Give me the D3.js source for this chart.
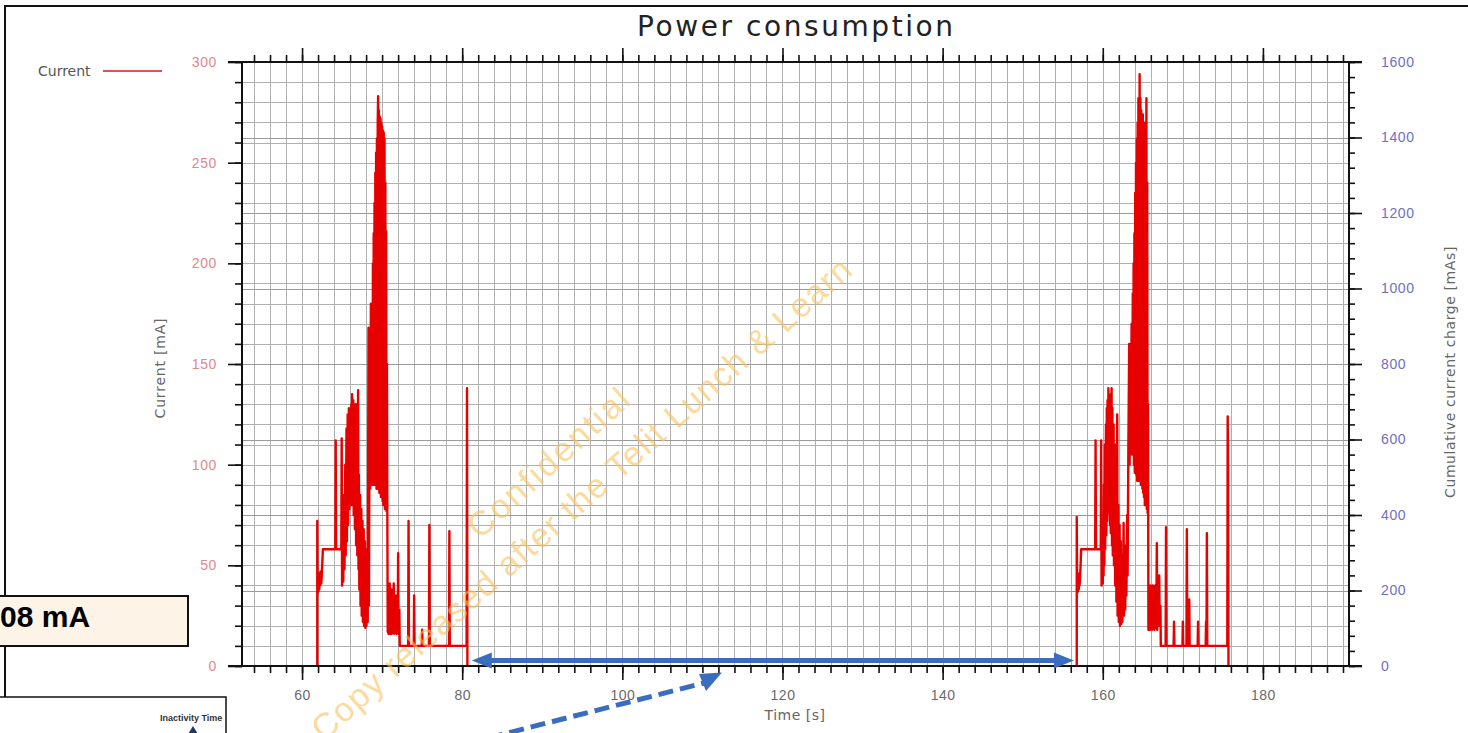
<!DOCTYPE html>
<html>
<head>
<meta charset="utf-8">
<script src="https://cdn.jsdelivr.net/npm/d3@7"></script>
<style>
  body { margin: 0; background: #fff; }
  svg { display: block; font-family: "DejaVu Sans", sans-serif; }
</style>
</head>
<body>
<div id="chart"></div>
<script>
// ---- data ----
// time [s], current [mA]
var burst1 = [[61.9,0],[61.9,72],[61.95,36],[62.0,44],[62.05,37],[62.1,45],[62.15,38],[62.2,46],[62.25,40],[62.3,47],[62.4,41],[62.5,48],[62.6,58],[64.15,58],[64.2,112],[64.25,58],[64.9,58],[64.95,113],[65.0,40],[65.1,60],[65.15,42],[65.25,85],[65.3,48],[65.4,100],[65.45,55],[65.55,118],[65.6,62],[65.7,125],[65.75,70],[65.85,128],[65.9,78],[66.0,126],[66.05,85],[66.15,130],[66.2,80],[66.25,135],[66.3,88],[66.4,132],[66.45,75],[66.55,128],[66.6,68],[66.7,130],[66.75,60],[66.85,126],[66.9,55],[67.0,137],[67.05,48],[67.1,95],[67.15,38],[67.25,85],[67.3,30],[67.4,78],[67.45,25],[67.55,72],[67.6,22],[67.7,68],[67.75,20],[67.85,62],[67.9,19],[68.0,58],[68.05,20],[68.15,55],[68.2,22],[68.3,168],[68.35,30],[68.45,150],[68.5,88],[68.6,180],[68.65,90],[68.75,178],[68.8,92],[68.85,200],[68.9,90],[68.95,215],[69.0,93],[69.05,230],[69.1,90],[69.15,245],[69.2,92],[69.25,255],[69.3,88],[69.35,262],[69.4,90],[69.45,270],[69.5,283],[69.55,88],[69.6,276],[69.65,86],[69.7,273],[69.75,88],[69.8,272],[69.85,84],[69.9,270],[69.95,86],[70.0,268],[70.05,82],[70.1,266],[70.15,80],[70.2,265],[70.25,80],[70.3,262],[70.35,78],[70.4,240],[70.45,78],[70.5,216],[70.55,77],[70.6,150],[70.65,76],[70.7,17],[70.75,40],[70.8,16],[70.85,32],[70.9,17],[70.95,41],[71.0,16],[71.05,30],[71.1,17],[71.15,38],[71.2,16],[71.3,30],[71.35,17],[71.45,41],[71.5,16],[71.6,30],[71.65,17],[71.75,35],[71.8,16],[71.9,30],[71.95,17],[72.0,56],[72.05,16],[72.15,28],[72.2,10],[73.25,10],[73.3,72],[73.35,10],[73.95,10],[74.0,35],[74.05,10],[74.95,10],[75.0,18],[75.05,10],[75.85,10],[75.9,70],[75.95,10],[78.35,10],[78.4,67],[78.45,10],[80.55,10],[80.6,138],[80.65,0]];

var burst2 = [[156.75,0],[156.75,74],[156.8,36],[156.85,44],[156.9,37],[156.95,45],[157.0,38],[157.05,46],[157.1,40],[157.2,47],[157.3,58],[159.05,58],[159.1,112],[159.15,58],[159.75,58],[159.8,112],[159.85,40],[159.95,58],[160.0,41],[160.05,70],[160.1,45],[160.15,90],[160.2,50],[160.25,110],[160.3,58],[160.4,120],[160.45,65],[160.5,128],[160.55,72],[160.6,132],[160.65,80],[160.7,138],[160.75,76],[160.85,135],[160.9,70],[160.95,130],[161.0,66],[161.1,138],[161.15,60],[161.2,128],[161.25,55],[161.35,120],[161.4,50],[161.5,110],[161.55,40],[161.65,100],[161.7,32],[161.8,125],[161.85,25],[161.95,80],[162.0,22],[162.1,70],[162.15,20],[162.25,62],[162.3,21],[162.4,55],[162.45,22],[162.55,48],[162.6,71],[162.65,25],[162.75,50],[162.8,28],[162.9,60],[162.95,35],[163.05,75],[163.1,45],[163.2,110],[163.3,160],[163.35,100],[163.45,150],[163.5,108],[163.6,170],[163.65,105],[163.75,185],[163.8,110],[163.85,200],[163.9,100],[163.95,215],[164.0,96],[164.05,235],[164.1,100],[164.15,250],[164.2,95],[164.25,262],[164.3,92],[164.35,270],[164.4,95],[164.45,282],[164.5,92],[164.6,294],[164.65,94],[164.7,282],[164.75,90],[164.8,276],[164.85,92],[164.9,272],[164.95,88],[165.0,274],[165.05,86],[165.1,268],[165.15,84],[165.2,264],[165.25,80],[165.3,270],[165.35,80],[165.45,282],[165.5,78],[165.55,240],[165.6,76],[165.65,130],[165.7,18],[165.75,40],[165.8,19],[165.85,32],[165.9,18],[165.95,40],[166.0,19],[166.1,30],[166.15,18],[166.25,40],[166.3,19],[166.4,32],[166.45,18],[166.55,40],[166.6,19],[166.7,32],[166.75,61],[166.8,18],[166.9,38],[166.95,20],[167.05,45],[167.1,20],[167.2,30],[167.25,10],[167.85,10],[167.9,69],[167.95,10],[168.85,10],[168.9,22],[168.95,10],[169.95,10],[170.0,22],[170.05,10],[170.45,10],[170.5,68],[170.55,10],[170.75,10],[170.8,33],[170.85,10],[171.85,10],[171.9,22],[171.95,10],[172.85,10],[172.9,22],[172.95,10],[173.0,66],[173.05,10],[175.55,10],[175.6,124],[175.65,98],[175.7,0]];

var timeTicks = [60, 80, 100, 120, 140, 160, 180];
var currentTicks = [0, 50, 100, 150, 200, 250, 300];
var chargeTicks = [0, 200, 400, 600, 800, 1000, 1200, 1400, 1600];

var W = 1468, H = 733;

var svg = d3.select("#chart").append("svg")
    .attr("width", W)
    .attr("height", H);

// outer frame of the pasted chart
svg.append("rect")
    .attr("x", 5).attr("y", 6)
    .attr("width", 1500).attr("height", 800)
    .attr("fill", "none")
    .attr("stroke", "#111")
    .attr("stroke-width", 2);

// scales
var x = d3.scaleLinear().domain([52.5, 190.75]).range([242, 1349]);
var y = d3.scaleLinear().domain([0, 300]).range([666, 62]);
var y2 = d3.scaleLinear().domain([0, 1600]).range([666, 62]);

// grid
var grid = svg.append("g").attr("class", "grid")
    .attr("stroke", "#b0b0b0").attr("stroke-width", 1);

grid.selectAll("line.v")
    .data(d3.range(54, 191, 2))
    .enter().append("line")
    .attr("class", "v")
    .attr("x1", function(d) { return Math.round(x(d)) + 0.5; })
    .attr("x2", function(d) { return Math.round(x(d)) + 0.5; })
    .attr("y1", y(300)).attr("y2", y(0));

grid.selectAll("line.h")
    .data(d3.range(10, 300, 10))
    .enter().append("line")
    .attr("class", "h")
    .attr("x1", x(52.5)).attr("x2", x(190.75))
    .attr("y1", function(d) { return Math.round(y(d)) + 0.5; })
    .attr("y2", function(d) { return Math.round(y(d)) + 0.5; });

grid.selectAll("line.h2")
    .data(chargeTicks.slice(1, -1))
    .enter().append("line")
    .attr("class", "h2")
    .attr("stroke", "#9a9a9a")
    .attr("x1", x(52.5)).attr("x2", x(190.75))
    .attr("y1", function(d) { return Math.round(y2(d)) + 0.5; })
    .attr("y2", function(d) { return Math.round(y2(d)) + 0.5; });

// current trace
var line = d3.line()
    .x(function(d) { return x(d[0]); })
    .y(function(d) { return y(d[1]); });

svg.selectAll("path.current")
    .data([burst1, burst2])
    .enter().append("path")
    .attr("class", "current")
    .attr("d", line)
    .attr("fill", "none")
    .attr("stroke", "#e60000")
    .attr("stroke-width", 2.4)
    .attr("stroke-linejoin", "round");

// axes
function styleAxis(g) {
    g.select(".domain").remove();
    g.selectAll(".tick line").attr("stroke", "#111").attr("stroke-width", 1.6);
}

// bottom
svg.append("g")
    .attr("transform", "translate(0," + y(0) + ")")
    .call(d3.axisBottom(x).tickValues(d3.range(54, 191, 2)).tickSize(7).tickFormat(""))
    .call(styleAxis);
svg.append("g")
    .attr("transform", "translate(0," + y(0) + ")")
    .call(d3.axisBottom(x).tickValues(timeTicks).tickSize(14).tickPadding(10).tickFormat(d3.format("d")))
    .call(styleAxis)
    .call(function(g) {
        g.selectAll("text")
            .attr("fill", "#6a6a6a")
            .style("font-size", "14px")
            .style("letter-spacing", "0.5px");
    });

// top
svg.append("g")
    .attr("transform", "translate(0," + y(300) + ")")
    .call(d3.axisTop(x).tickValues(d3.range(54, 191, 2)).tickSize(7).tickFormat(""))
    .call(styleAxis);
svg.append("g")
    .attr("transform", "translate(0," + y(300) + ")")
    .call(d3.axisTop(x).tickValues(timeTicks).tickSize(14).tickFormat(""))
    .call(styleAxis);

// left
svg.append("g")
    .attr("transform", "translate(" + x(52.5) + ",0)")
    .call(d3.axisLeft(y).tickValues(d3.range(0, 301, 10)).tickSize(7).tickFormat(""))
    .call(styleAxis);
svg.append("g")
    .attr("transform", "translate(" + x(52.5) + ",0)")
    .call(d3.axisLeft(y).tickValues(currentTicks).tickSize(14).tickPadding(11).tickFormat(d3.format("d")))
    .call(styleAxis)
    .call(function(g) {
        g.selectAll("text")
            .attr("fill", "#e0888e")
            .style("font-size", "14px")
            .style("letter-spacing", "0.6px");
    });

// right
svg.append("g")
    .attr("transform", "translate(" + x(190.75) + ",0)")
    .call(d3.axisRight(y2).tickValues(d3.range(0, 1601, 40)).tickSize(6).tickFormat(""))
    .call(styleAxis);
svg.append("g")
    .attr("transform", "translate(" + x(190.75) + ",0)")
    .call(d3.axisRight(y2).tickValues(chargeTicks).tickSize(13).tickPadding(19).tickFormat(d3.format("d")))
    .call(styleAxis)
    .call(function(g) {
        g.selectAll("text")
            .attr("fill", "#6f6fbf")
            .style("font-size", "14px")
            .style("letter-spacing", "0.6px");
    });

// frame lines of the plot box
var box = svg.append("g").attr("stroke", "#111").attr("stroke-width", 2);
box.append("line").attr("x1", x(52.5) - 14).attr("x2", x(190.75) + 13).attr("y1", y(0)).attr("y2", y(0));
box.append("line").attr("x1", x(52.5) - 14).attr("x2", x(190.75) + 13).attr("y1", y(300)).attr("y2", y(300));
box.append("line").attr("x1", x(52.5)).attr("x2", x(52.5)).attr("y1", y(300)).attr("y2", y(0));
box.append("line").attr("x1", x(190.75)).attr("x2", x(190.75)).attr("y1", y(300)).attr("y2", y(0));

// titles
svg.append("text")
    .attr("x", 795).attr("y", 36)
    .attr("text-anchor", "middle")
    .attr("fill", "#222")
    .attr("textLength", 316)
    .style("font-size", "28px")
    .text("Power consumption");

svg.append("text")
    .attr("x", 795).attr("y", 720)
    .attr("text-anchor", "middle")
    .attr("fill", "#666")
    .style("font-size", "14px")
    .style("letter-spacing", "0.5px")
    .text("Time [s]");

svg.append("text")
    .attr("transform", "translate(165,368) rotate(-90)")
    .attr("text-anchor", "middle")
    .attr("fill", "#666")
    .style("font-size", "14px")
    .style("letter-spacing", "0.8px")
    .text("Current [mA]");

svg.append("text")
    .attr("transform", "translate(1455,372) rotate(-90)")
    .attr("text-anchor", "middle")
    .attr("fill", "#666")
    .style("font-size", "14px")
    .style("letter-spacing", "0.6px")
    .text("Cumulative current charge [mAs]");

// legend
svg.append("text")
    .attr("x", 38).attr("y", 76)
    .attr("fill", "#555")
    .style("font-size", "14px")
    .text("Current");
svg.append("line")
    .attr("x1", 103).attr("x2", 162)
    .attr("y1", 71).attr("y2", 71)
    .attr("stroke", "#d9535a")
    .attr("stroke-width", 2);

// watermark
var wm = svg.append("g")
    .attr("fill", "#f8c25a")
    .attr("fill-opacity", 0.6)
    .style("font-family", "'Liberation Sans', Arial, sans-serif");
wm.append("text")
    .attr("transform", "translate(480,540) rotate(-42)")
    .attr("textLength", 205)
    .style("font-size", "34px")
    .text("Confidential");
wm.append("text")
    .attr("transform", "translate(324,742) rotate(-41.5)")
    .attr("textLength", 708)
    .style("font-size", "34px")
    .text("Copy released after the Telit Lunch & Learn");

// inactivity arrows
var blue = "#3a6dbf";
var ya = y(2.7);
svg.append("line")
    .attr("x1", x(81.2) + 16).attr("x2", x(156.4) - 16)
    .attr("y1", ya).attr("y2", ya)
    .attr("stroke", blue).attr("stroke-width", 5);
svg.append("path")
    .attr("d", "M" + x(81.2) + "," + ya + "l20,-8l0,16z")
    .attr("fill", blue);
svg.append("path")
    .attr("d", "M" + x(156.4) + "," + ya + "l-20,-8l0,16z")
    .attr("fill", blue);

// dashed pointer
svg.append("line")
    .attr("x1", 488).attr("y1", 738)
    .attr("x2", 704).attr("y2", 683)
    .attr("stroke", blue).attr("stroke-width", 5)
    .attr("stroke-dasharray", "15,7");
svg.append("path")
    .attr("d", "M722,672.5 L699,674 L706,691 Z")
    .attr("fill", blue);

// "08 mA" call-out box
svg.append("rect")
    .attr("x", -5).attr("y", 596)
    .attr("width", 193).attr("height", 50)
    .attr("fill", "#fdf3e6")
    .attr("stroke", "#111").attr("stroke-width", 2);
svg.append("text")
    .attr("x", 0).attr("y", 627)
    .attr("fill", "#000")
    .style("font-family", "'Liberation Sans', Arial, sans-serif")
    .style("font-weight", "bold")
    .style("font-size", "30px")
    .text("08 mA");

// "Inactivity Time" inset
svg.append("clipPath").attr("id", "inset")
    .append("rect").attr("x", -5).attr("y", 697).attr("width", 231).attr("height", 50);
svg.append("rect")
    .attr("x", -5).attr("y", 697)
    .attr("width", 231).attr("height", 50)
    .attr("fill", "#fff")
    .attr("stroke", "#111").attr("stroke-width", 1.5);
svg.append("text")
    .attr("clip-path", "url(#inset)")
    .attr("x", 160).attr("y", 721)
    .attr("fill", "#333")
    .style("font-family", "'Liberation Sans', Arial, sans-serif")
    .style("font-weight", "bold")
    .style("font-size", "9px")
    .text("Inactivity Time");
svg.append("path")
    .attr("d", "M193,726 L188,734 L198,734 Z")
    .attr("fill", "#1f3864");
</script>
</body>
</html>
